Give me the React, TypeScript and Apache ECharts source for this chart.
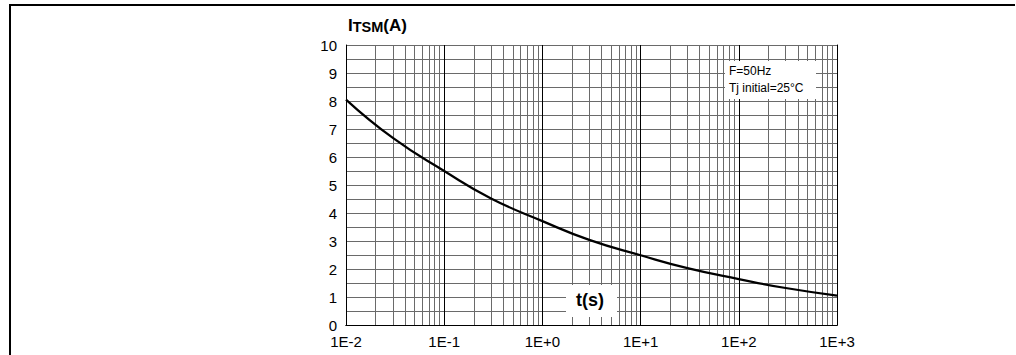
import React, { useEffect, useRef } from "react";
import * as echarts from "echarts";

// Time (s) on log axis and surge peak current ITSM (A)
const tValues = [0.01, 0.03, 0.1, 0.3, 1, 3, 10, 30, 100, 300, 1000];
const itsmValues = [8.05, 6.68, 5.5, 4.52, 3.71, 3.04, 2.49, 2.03, 1.64, 1.32, 1.05];

const decadeExponents = [-2, -1, 0, 1, 2];
const minorMultipliers = [2, 3, 4, 5, 6, 7, 8, 9];
const yTicks = [0, 1, 2, 3, 4, 5, 6, 7, 8, 9, 10];

const noteLines = ["F=50Hz", "Tj initial=25°C"];
const xAxisName = "t(s)";

const FONT = "Arial, 'Liberation Sans', Helvetica, sans-serif";
const GRID_GREY = "#6a6a6a";

export default function App() {
  const ref = useRef<HTMLDivElement>(null);

  useEffect(() => {
    if (!ref.current) return;
    const chart = echarts.init(ref.current, undefined, { renderer: "svg" });

    const minorLines: { xAxis: number }[] = [];
    decadeExponents.forEach((e) => {
      minorMultipliers.forEach((m) => {
        minorLines.push({ xAxis: parseFloat((m * Math.pow(10, e)).toPrecision(3)) });
      });
    });

    const fmtX = (v: number) => {
      const e = Math.round(Math.log10(v));
      return "1E" + (e >= 0 ? "+" : "-") + Math.abs(e);
    };

    chart.setOption({
      animation: false,
      backgroundColor: "#fff",
      grid: { left: 346, top: 45, width: 491, height: 280, show: false },
      xAxis: [
        {
          type: "log",
          logBase: 10,
          min: 0.01,
          max: 1000,
          splitNumber: 5,
          axisLine: { show: true, lineStyle: { color: "#000", width: 1 } },
          axisTick: { show: false },
          axisLabel: {
            formatter: fmtX,
            color: "#000",
            fontSize: 15,
            fontFamily: FONT,
            margin: 9,
          },
          splitLine: { show: true, lineStyle: { color: "#000", width: 1 } },
        },
        {
          type: "log",
          logBase: 10,
          min: 0.01,
          max: 1000,
          position: "top",
          axisLine: { show: true, lineStyle: { color: "#000", width: 1 } },
          axisTick: { show: false },
          axisLabel: { show: false },
          splitLine: { show: false },
        },
      ],
      yAxis: [
        {
          type: "value",
          min: 0,
          max: 10,
          interval: 0.5,
          axisLine: { show: true, lineStyle: { color: "#000", width: 1 } },
          axisTick: { show: false },
          axisLabel: {
            formatter: (v: number) => (yTicks.includes(v) ? String(v) : ""),
            color: "#000",
            fontSize: 15,
            fontFamily: FONT,
            margin: 9,
          },
          splitLine: { show: true, lineStyle: { color: GRID_GREY, width: 1 } },
        },
        {
          type: "value",
          min: 0,
          max: 10,
          position: "right",
          axisLine: { show: true, lineStyle: { color: "#000", width: 1 } },
          axisTick: { show: false },
          axisLabel: { show: false },
          splitLine: { show: false },
        },
      ],
      series: [
        {
          type: "line",
          data: [],
          z: 1,
          silent: true,
          markLine: {
            silent: true,
            symbol: ["none", "none"],
            label: { show: false },
            lineStyle: { type: "solid", color: GRID_GREY, width: 1 },
            data: minorLines,
          },
        },
        {
          type: "line",
          z: 20,
          smooth: 0.5,
          symbol: "none",
          lineStyle: { color: "#000", width: 2.2 },
          data: tValues.map((t, i) => [t, itsmValues[i]]),
        },
      ],
      graphic: [
        { type: "line", z: 30, shape: { x1: 9, y1: 5, x2: 1015, y2: 5 }, style: { stroke: "#000", lineWidth: 2 } },
        { type: "line", z: 30, shape: { x1: 10, y1: 4, x2: 10, y2: 355 }, style: { stroke: "#000", lineWidth: 2 } },
        {
          type: "text",
          z: 30,
          left: 348,
          top: 17,
          style: {
            text: "{a|I}{b|TSM}{a|(A)}",
            fontFamily: FONT,
            fill: "#000",
            rich: {
              a: { fontSize: 17, fontWeight: "bold", fontFamily: FONT, verticalAlign: "bottom", fill: "#000" },
              b: { fontSize: 14.5, fontWeight: "bold", fontFamily: FONT, verticalAlign: "bottom", fill: "#000" },
            },
          },
        },
        { type: "rect", z: 10, shape: { x: 725, y: 61, width: 91, height: 38 }, style: { fill: "#fff" } },
        {
          type: "text",
          z: 11,
          left: 729,
          top: 62,
          style: { text: noteLines.join("\n"), fontSize: 12, lineHeight: 17, fontFamily: FONT, fill: "#000" },
        },
        { type: "rect", z: 10, shape: { x: 566, y: 285, width: 51, height: 32 }, style: { fill: "#fff" } },
        {
          type: "text",
          z: 11,
          left: 576,
          top: 291,
          style: { text: xAxisName, fontSize: 18, fontWeight: "bold", fontFamily: FONT, fill: "#000" },
        },
      ],
    });

    return () => chart.dispose();
  }, []);

  return (
    <div
      ref={ref}
      style={{ position: "fixed", left: 0, top: 0, width: 1016, height: 355, background: "#fff" }}
    />
  );
}
